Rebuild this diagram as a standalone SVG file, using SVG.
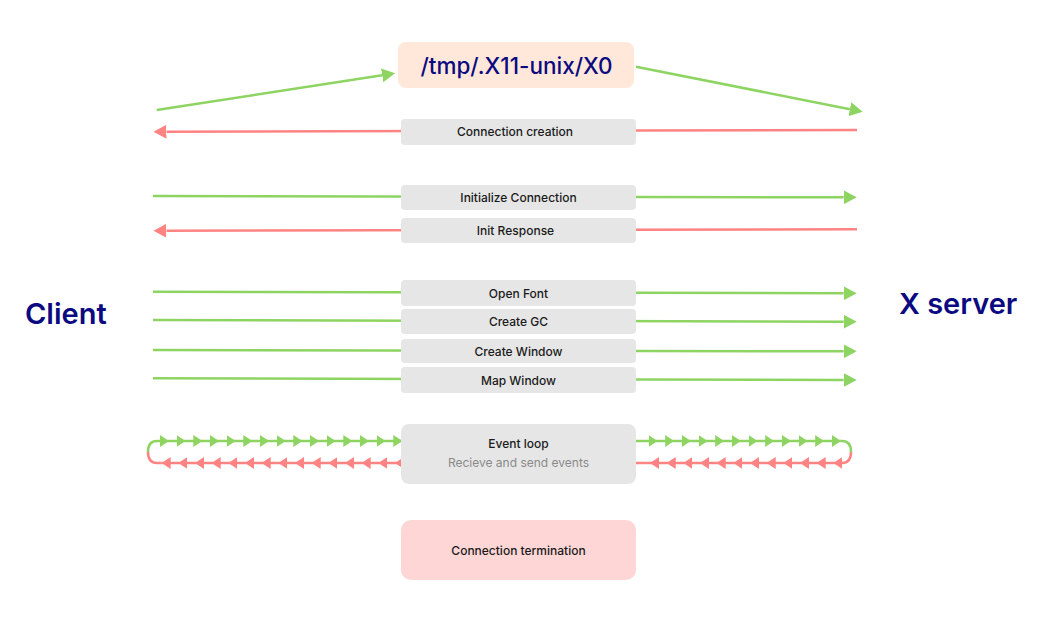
<svg xmlns="http://www.w3.org/2000/svg" width="1063" height="628" viewBox="0 0 1063 628">
<defs>
<style>
.g{stroke:#8ED462;stroke-width:2.5;fill:none}
.r{stroke:#FF8383;stroke-width:2.5;fill:none}
.box{fill:#E6E6E6}
.lbl{font-family:Inter,"Noto Sans",sans-serif;font-size:12px;font-weight:500;fill:#1A1A1A;text-anchor:middle}
.sub{font-family:Inter,"Noto Sans",sans-serif;font-size:12px;font-weight:400;fill:#8A8A8A;text-anchor:middle}
.actor{font-family:Inter,"Noto Sans",sans-serif;font-size:29px;font-weight:600;fill:#0C0A80}
</style>
<marker id="ag" markerUnits="userSpaceOnUse" markerWidth="13" markerHeight="14" viewBox="0 0 13 14" refX="0" refY="7" orient="auto"><path d="M0,0 L13,7 L0,14 z" fill="#8ED462"/></marker>
<marker id="ar" markerUnits="userSpaceOnUse" markerWidth="13" markerHeight="14" viewBox="0 0 13 14" refX="0" refY="7" orient="auto"><path d="M0,0 L13,7 L0,14 z" fill="#FF8383"/></marker>
<marker id="sg" markerUnits="userSpaceOnUse" markerWidth="9" markerHeight="12" viewBox="0 0 9 12" refX="9" refY="6" orient="auto"><path d="M0,0 L9,6 L0,12 z" fill="#8ED462"/></marker>
<marker id="sr" markerUnits="userSpaceOnUse" markerWidth="9" markerHeight="12" viewBox="0 0 9 12" refX="9" refY="6" orient="auto"><path d="M0,0 L9,6 L0,12 z" fill="#FF8383"/></marker>
</defs>
<rect width="1063" height="628" fill="#FFFFFF"/>

<g id="connectors">
<line class="g" x1="156.7" y1="110" x2="382.2" y2="75.3" marker-end="url(#ag)"/>
<line class="g" x1="636" y1="66.7" x2="849.9" y2="109.2" marker-end="url(#ag)"/>
<line class="r" x1="857" y1="130" x2="166.5" y2="131.7" marker-end="url(#ar)"/>
<line class="g" x1="153" y1="196" x2="843.7" y2="197.3" marker-end="url(#ag)"/>
<line class="r" x1="857" y1="229.3" x2="166.5" y2="230.7" marker-end="url(#ar)"/>
<line class="g" x1="153" y1="291.7" x2="843.7" y2="293.3" marker-end="url(#ag)"/>
<line class="g" x1="153" y1="320" x2="843.7" y2="321.7" marker-end="url(#ag)"/>
<line class="g" x1="153" y1="350" x2="843.7" y2="351.3" marker-end="url(#ag)"/>
<line class="g" x1="153" y1="378.3" x2="843.7" y2="380" marker-end="url(#ag)"/>
<!-- event loop left -->
<path class="g" d="M148,452 Q148,441 157,441"/>
<polyline class="g" marker-mid="url(#sg)" marker-end="url(#sg)" points="157,441 169,441 185.67,441 202.33,441 219,441 235.67,441 252.33,441 269,441 285.67,441 302.33,441 319,441 335.67,441 352.33,441 369,441 385.67,441 402.33,441"/>
<polyline class="r" marker-mid="url(#sr)" marker-end="url(#sr)" points="401,463 395,463 378.33,463 361.67,463 345,463 328.33,463 311.67,463 295,463 278.33,463 261.67,463 245,463 228.33,463 211.67,463 195,463 178.33,463 161.67,463"/>
<path class="r" d="M161.67,463 L157,463 Q148,463 148,452"/>
<!-- event loop right -->
<polyline class="g" marker-mid="url(#sg)" marker-end="url(#sg)" points="636,441 657.5,441 674.17,441 690.83,441 707.5,441 724.17,441 740.83,441 757.5,441 774.17,441 790.83,441 807.5,441 824.17,441 840.83,441"/>
<path class="g" d="M840.83,441 L842,441 Q851,441 851,452"/>
<path class="r" d="M851,452 Q851,463 842,463"/>
<polyline class="r" marker-mid="url(#sr)" marker-end="url(#sr)" points="842,463 833.33,463 816.67,463 800,463 783.33,463 766.67,463 750,463 733.33,463 716.67,463 700,463 683.33,463 666.67,463 650,463"/>
<line class="r" x1="650" y1="463" x2="636" y2="463"/>
</g>

<g id="client"><text class="actor" x="25" y="323.5">Client</text></g>
<g id="xserver"><text class="actor" x="899" y="313.5">X server</text></g>

<g id="socket">
<rect x="398" y="42" width="236" height="46" rx="8" fill="#FFE8D9"/>
<text x="516.5" y="73.5" text-anchor="middle" font-family="Inter,'Noto Sans',sans-serif" font-size="22.5" font-weight="500" fill="#0C0A80">/tmp/.X11-unix/X0</text>
</g>
<g id="conn-creation"><rect class="box" x="401" y="119" width="235" height="26" rx="4"/><text class="lbl" x="515" y="136">Connection creation</text></g>
<g id="init-conn"><rect class="box" x="401" y="185" width="235" height="25" rx="4"/><text class="lbl" x="518.5" y="202">Initialize Connection</text></g>
<g id="init-resp"><rect class="box" x="401" y="218" width="235" height="25" rx="4"/><text class="lbl" x="515.5" y="235">Init Response</text></g>
<g id="open-font"><rect class="box" x="401" y="280" width="235" height="26" rx="4"/><text class="lbl" x="518.5" y="297.5">Open Font</text></g>
<g id="create-gc"><rect class="box" x="401" y="309" width="235" height="25" rx="4"/><text class="lbl" x="518.5" y="326">Create GC</text></g>
<g id="create-window"><rect class="box" x="401" y="339" width="235" height="24" rx="4"/><text class="lbl" x="518.5" y="355.5">Create Window</text></g>
<g id="map-window"><rect class="box" x="401" y="367" width="235" height="26" rx="4"/><text class="lbl" x="518.5" y="384.5">Map Window</text></g>
<g id="event-loop"><rect class="box" x="401" y="424" width="235" height="60" rx="8"/><text class="lbl" x="518.5" y="447.5">Event loop</text><text class="sub" x="518.5" y="467">Recieve and send events</text></g>
<g id="termination"><rect x="401" y="520" width="235" height="60" rx="10" fill="#FFD6D6"/><text class="lbl" x="518.5" y="555">Connection termination</text></g>
</svg>
